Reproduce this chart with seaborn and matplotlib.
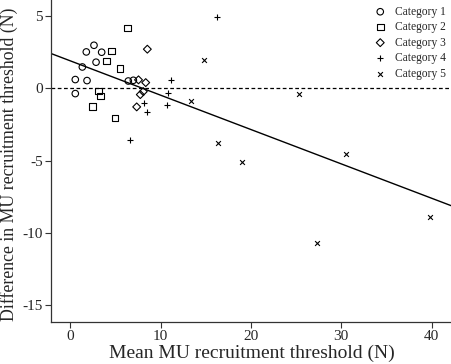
import matplotlib
matplotlib.use("Agg")
import matplotlib.pyplot as plt
import seaborn as sns
import pandas as pd
import numpy as np

# mean recruitment threshold (N) and difference (N), per category
cat1_x = [0.55, 0.55, 1.33, 1.77, 1.85, 2.62, 2.85, 3.47, 6.42, 6.98]
cat1_y = [0.60, -0.37, 1.47, 2.51, 0.53, 2.97, 1.80, 2.49, 0.50, 0.55]
cat2_x = [6.31, 4.58, 3.99, 5.50, 3.10, 3.32, 2.48, 4.95]
cat2_y = [4.15, 2.58, 1.89, 1.38, -0.19, -0.55, -1.27, -2.05]
cat3_x = [8.53, 8.35, 7.55, 8.08, 7.75, 7.35]
cat3_y = [2.70, 0.39, 0.58, -0.23, -0.44, -1.29]
cat4_x = [16.2, 11.15, 10.82, 10.71, 8.16, 8.53, 6.58]
cat4_y = [4.95, 0.55, -0.30, -1.13, -1.04, -1.66, -3.58]
cat5_x = [14.84, 13.37, 16.36, 19.01, 25.36, 30.56, 39.87, 27.32]
cat5_y = [1.96, -0.86, -3.76, -5.12, -0.37, -4.54, -8.90, -10.68]

categories = ["Category 1", "Category 2", "Category 3", "Category 4", "Category 5"]
markers = ["o", "s", "D", "+", "x"]

frames = []
for name, xs, ys in zip(categories,
                        [cat1_x, cat2_x, cat3_x, cat4_x, cat5_x],
                        [cat1_y, cat2_y, cat3_y, cat4_y, cat5_y]):
    frames.append(pd.DataFrame({"mean": xs, "diff": ys, "cat": name}))
df = pd.concat(frames, ignore_index=True)

sns.set_style("ticks")
plt.rcParams["font.family"] = ["Liberation Serif", "DejaVu Serif"]
plt.rcParams["axes.unicode_minus"] = False

fig = plt.figure(figsize=(4.52, 3.64), dpi=100)
ax = fig.add_axes([51 / 452, 1 - 321.7 / 364, 1 - 51 / 452, 321.7 / 364])
ax.set_xlim(-2.14, 42.27)
ax.set_ylim(-16.14, 6.1)

for name, m in zip(categories, markers):
    sub = df[df["cat"] == name]
    if m in ("+", "x"):
        sns.scatterplot(data=sub, x="mean", y="diff", marker=m, color="black",
                        s=18 if m == "+" else 12, linewidth=0.8, label=name, ax=ax)
    else:
        sns.scatterplot(data=sub, x="mean", y="diff", marker=m, facecolor="none",
                        edgecolor="black", s=22 if m != "D" else 16, linewidth=0.8,
                        label=name, ax=ax)

sns.regplot(data=df, x="mean", y="diff", scatter=False, ci=None, truncate=False,
            color="black", line_kws={"linewidth": 1.0}, ax=ax)
ax.axhline(0, color="black", linestyle="--", linewidth=0.9, dashes=(3, 2))

ax.set_xticks([0, 10, 20, 30, 40])
ax.set_yticks([-15, -10, -5, 0, 5])
ax.tick_params(labelsize=11, length=4, width=0.8, color="#333333", pad=2)
for s in ["top", "right"]:
    ax.spines[s].set_visible(False)
for s in ["left", "bottom"]:
    ax.spines[s].set_color("#333333")
    ax.spines[s].set_linewidth(0.9)

ax.set_xlabel("Mean MU recruitment threshold (N)", fontsize=14, labelpad=1)
ax.set_ylabel("Difference in MU recruitment threshold (N)", fontsize=12.8)
ax.yaxis.set_label_coords(-0.082, 0.49)

ax.legend(loc="upper right", frameon=False, fontsize=8.3, handletextpad=0.8,
          labelspacing=0.3, borderaxespad=0.1, handlelength=1.0)

fig.savefig("out.png", dpi=100)
